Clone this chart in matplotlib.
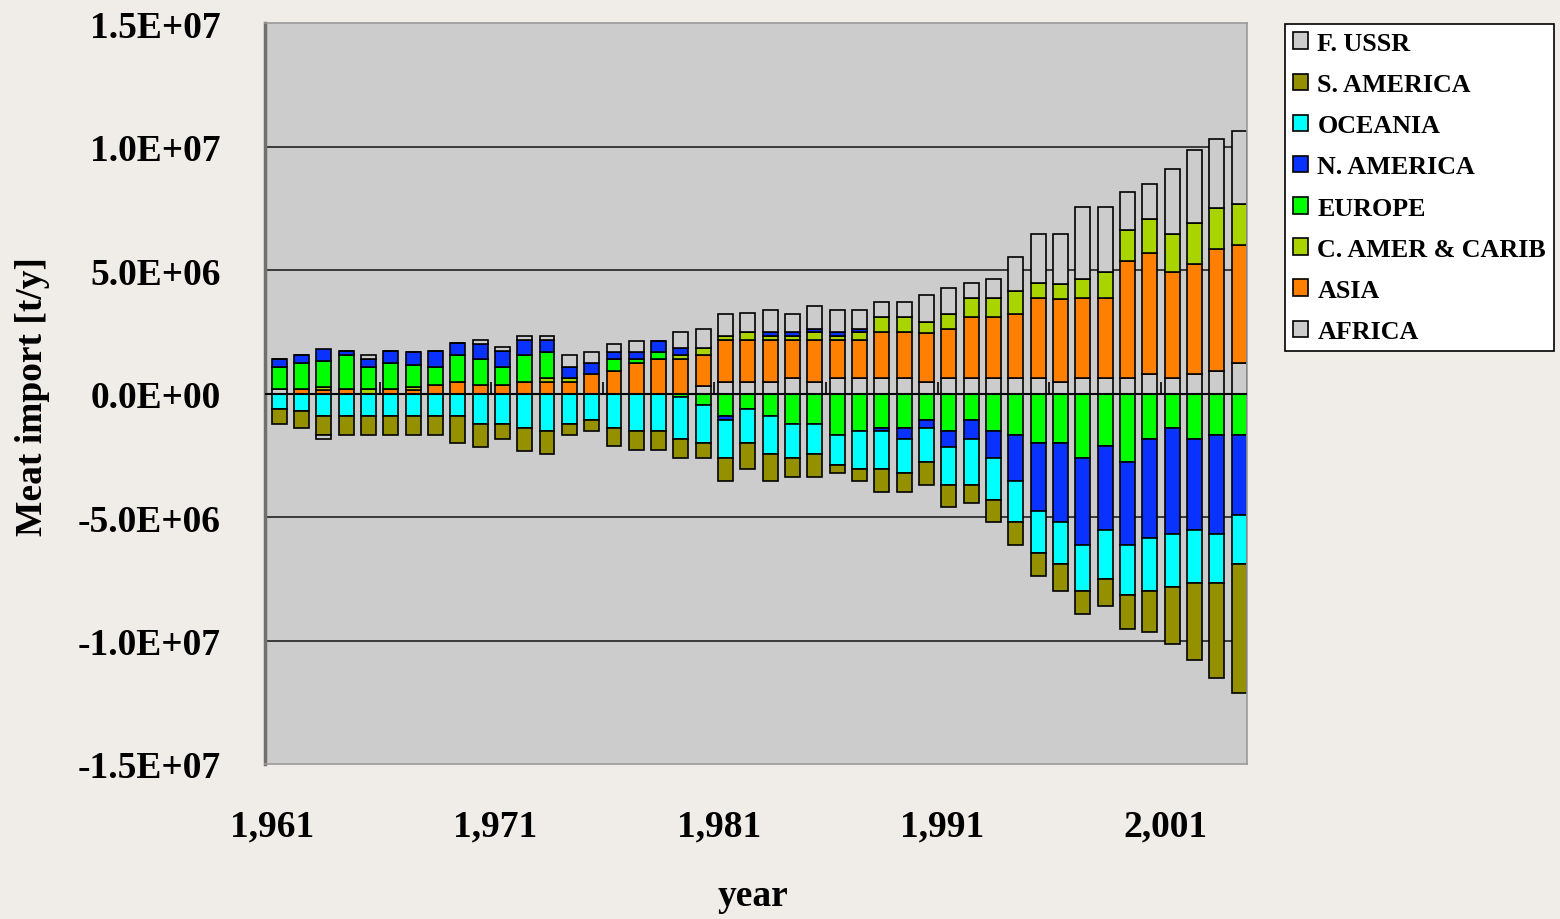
import numpy as np
import matplotlib.pyplot as plt
from matplotlib.patches import Patch
from matplotlib.transforms import ScaledTranslation

plt.rcParams['font.family'] = ['Liberation Serif', 'DejaVu Serif']
plt.rcParams['font.weight'] = 'bold'

years = np.arange(1961, 2005)
names = ["AFRICA", "ASIA", "C. AMER & CARIB", "EUROPE", "N. AMERICA", "OCEANIA", "S. AMERICA", "F. USSR"]
colors = ["#cccccc", "#ff8000", "#aad400", "#00ff00", "#0a32ff", "#00ffff", "#949000", "#cccccc"]

# net meat import per region, million t/y
africa = [0.18, 0, 0, 0, 0, 0, 0, 0, 0, 0,
          0, 0, 0, 0, 0, 0, 0, 0, 0, 0.31,
          0.47, 0.47, 0.47, 0.61, 0.47, 0.61, 0.61, 0.61, 0.61, 0.47,
          0.61, 0.61, 0.61, 0.61, 0.61, 0.47, 0.61, 0.61, 0.61, 0.77,
          0.61, 0.77, 0.92, 1.23]
asia = [0, 0.18, 0.16, 0.18, 0, 0.18, 0.16, 0.34, 0.47, 0.34,
        0.34, 0.47, 0.47, 0.47, 0.77, 0.92, 1.22, 1.38, 1.38, 1.23,
        1.68, 1.68, 1.68, 1.54, 1.68, 1.54, 1.54, 1.87, 1.86, 1.96,
        1.99, 2.47, 2.47, 2.62, 3.24, 3.37, 3.24, 3.24, 4.77, 4.92,
        4.31, 4.46, 4.92, 4.77]
camer = [0, 0, 0.12, 0, 0.18, 0, 0.10, 0, 0, 0,
         0, 0, 0.14, 0.14, 0, 0, 0, 0, 0.16, 0.31,
         0.16, 0.33, 0.16, 0.16, 0.33, 0.16, 0.33, 0.61, 0.61, 0.47,
         0.62, 0.77, 0.77, 0.93, 0.61, 0.61, 0.77, 1.07, 1.23, 1.38,
         1.54, 1.68, 1.69, 1.68]
europe = [0.91, 1.04, 1.04, 1.37, 0.91, 1.04, 0.91, 0.75, 1.07, 1.04,
          0.75, 1.07, 1.07, 0, 0, 0.46, 0.16, 0.31, -0.14, -0.45,
          -0.92, -0.61, -0.92, -1.22, -1.22, -1.69, -1.53, -1.38, -1.38, -1.06,
          -1.52, -1.06, -1.53, -1.68, -1.99, -1.99, -2.60, -2.14, -2.76, -1.83,
          -1.38, -1.83, -1.68, -1.68]
namer = [0.31, 0.33, 0.49, 0.16, 0.31, 0.49, 0.49, 0.62, 0.49, 0.61,
         0.62, 0.61, 0.47, 0.47, 0.45, 0.31, 0.31, 0.45, 0.31, 0,
         -0.14, 0, 0.16, 0.16, 0.15, 0.16, 0.15, -0.15, -0.45, -0.33,
         -0.64, -0.77, -1.08, -1.86, -2.78, -3.22, -3.55, -3.39, -3.39, -4.01,
         -4.31, -3.70, -4.01, -3.24]
oceania = [-0.61, -0.72, -0.91, -0.91, -0.91, -0.91, -0.91, -0.91, -0.91, -1.22,
           -1.22, -1.38, -1.53, -1.22, -1.06, -1.38, -1.53, -1.53, -1.69, -1.54,
           -1.54, -1.38, -1.53, -1.38, -1.23, -1.22, -1.54, -1.54, -1.40, -1.38,
           -1.53, -1.86, -1.69, -1.68, -1.68, -1.69, -1.84, -1.99, -1.99, -2.15,
           -2.15, -2.15, -1.99, -1.99]
samer = [-0.61, -0.66, -0.76, -0.79, -0.79, -0.79, -0.79, -0.79, -1.08, -0.93,
         -0.64, -0.93, -0.93, -0.47, -0.47, -0.76, -0.77, -0.77, -0.77, -0.61,
         -0.93, -1.08, -1.08, -0.79, -0.93, -0.31, -0.46, -0.92, -0.77, -0.92,
         -0.92, -0.76, -0.91, -0.92, -0.93, -1.08, -0.92, -1.08, -1.38, -1.67,
         -2.29, -3.09, -3.85, -5.23]
fussr = [0, 0, -0.19, 0, 0.15, 0, 0, 0, 0, 0.16,
         0.16, 0.16, 0.16, 0.46, 0.47, 0.31, 0.45, 0, 0.62, 0.77,
         0.92, 0.76, 0.91, 0.76, 0.92, 0.91, 0.76, 0.61, 0.62, 1.08,
         1.07, 0.61, 0.77, 1.37, 2.01, 2.01, 2.93, 2.63, 1.54, 1.40,
         2.62, 2.94, 2.78, 2.93]

series = [africa, asia, camer, europe, namer, oceania, samer, fussr]

fig = plt.figure(figsize=(15.6, 9.2), dpi=100, facecolor="#f0ece8")
ax = fig.add_axes([265/1560, 1-765/920, 982/1560, 741/920])
ax.set_facecolor("#cccccc")

# stacked bars, positives up from zero, negatives down from zero
pos = np.zeros(len(years))
neg = np.zeros(len(years))
for vals, c in zip(series, colors):
    v = np.array(vals) * 1e6
    bottom = np.where(v >= 0, pos, neg)
    ax.bar(years, v, bottom=bottom, width=0.67, color=c, edgecolor="black",
           linewidth=1.2, zorder=2)
    pos = pos + np.clip(v, 0, None)
    neg = neg + np.clip(v, None, 0)

ax.set_ylim(-1.5e7, 1.5e7)
ax.set_xlim(years[0] - 0.63, years[-1] + 0.35)
yt = np.arange(-1.5e7, 1.6e7, 5e6)
ax.set_yticks(yt)
ax.set_yticklabels(["%.1E" % t for t in yt])
for t in yt[1:-1]:
    ax.axhline(t, color="#222222", lw=1.2, zorder=1)

# category axis at zero, tick marks every 5 years between bars
ax.axhline(0, color="black", lw=1.5, zorder=3)
ax.vlines(years[4::5] + 0.5, 0, 0.45e6, color="black", lw=1.2, zorder=3)

xt = years[::10]
ax.set_xticks(xt)
ax.set_xticklabels(["{:,}".format(y) for y in xt])

ax.tick_params(axis="both", length=0, labelsize=27)
ax.tick_params(axis="y", pad=32)
ax.tick_params(axis="x", pad=32)

# labels sit a little left of the bars, as in the excel original
off = ScaledTranslation(-7/100, 0, fig.dpi_scale_trans)
for lab in ax.get_xticklabels():
    lab.set_transform(lab.get_transform() + off)

for s in ax.spines.values():
    s.set_color("#9a9a9a")
    s.set_linewidth(1.2)
ax.spines["left"].set_color("#707070")
ax.spines["left"].set_linewidth(2.5)

fig.text(33/1560, 1-397/920, "Meat import [t/y]", rotation=90, fontsize=27,
         fontweight="bold", ha="center", va="center")
fig.text(753/1560, 1-897/920, "year", fontsize=27, fontweight="bold",
         ha="center", va="center")

handles = [Patch(facecolor=c, edgecolor="black", linewidth=1.2) for c in colors]
leg = fig.legend(handles[::-1], names[::-1], loc="upper left",
                 bbox_to_anchor=(1285/1560, 1-25/920), bbox_transform=fig.transFigure,
                 borderaxespad=0, borderpad=0.3, handlelength=0.6, handleheight=0.6,
                 handletextpad=0.35, labelspacing=0.7, fontsize=18.7,
                 fancybox=False, framealpha=1, facecolor="white", edgecolor="black")
leg.get_frame().set_linewidth(1.2)

fig.savefig("out.png", dpi=100, facecolor=fig.get_facecolor())
